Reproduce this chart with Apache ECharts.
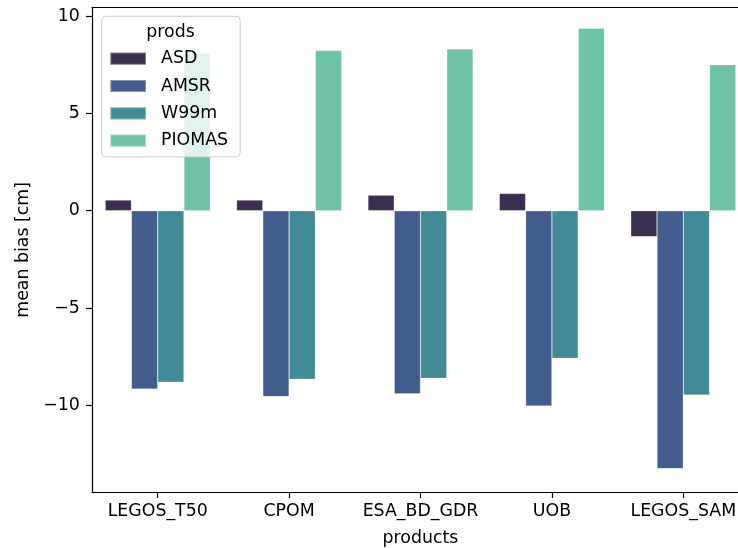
<!DOCTYPE html>
<html>
<head>
<meta charset="utf-8">
<script src="https://cdn.jsdelivr.net/npm/echarts@6/dist/echarts.min.js"></script>
<style>
  html, body { margin: 0; padding: 0; background: #fff; }
  #chart { width: 738px; height: 548px; }
</style>
</head>
<body>
<div id="chart"></div>
<script>
// Mean bias of each product, grouped by reference product
const categories = ['LEGOS_T50', 'CPOM', 'ESA_BD_GDR', 'UOB', 'LEGOS_SAM'];
const hueNames = ['ASD', 'AMSR', 'W99m', 'PIOMAS'];
const asd    = [0.55, 0.55, 0.80, 0.89, -1.33];
const amsr   = [-9.16, -9.55, -9.41, -10.03, -13.25];
const w99m   = [-8.81, -8.66, -8.61, -7.58, -9.47];
const piomas = [8.08, 8.24, 8.31, 9.38, 7.50];
const yTicks = [-10, -5, 0, 5, 10];

const seriesValues = [asd, amsr, w99m, piomas];
const colors = ['#3b2f51', '#435e8e', '#428b96', '#6fc2a7'];

const FONT = 'DejaVu Sans';
const FS = 17.36;
const spine = { color: '#000', width: 1.2 };

const chart = echarts.init(document.getElementById('chart'), null, { renderer: 'canvas' });

chart.setOption({
  animation: false,
  backgroundColor: '#ffffff',
  textStyle: { fontFamily: FONT },
  grid: {
    left: 92, top: 7.7, width: 657, height: 484.3,
    outerBoundsMode: 'none',
    containLabel: false,
    show: false
  },
  legend: {
    orient: 'vertical',
    left: 101.7, top: 16.3,
    padding: [33.4, 12, 7.3, 7.6],
    itemWidth: 35.7, itemHeight: 12.2, itemGap: 9.3,
    icon: 'rect',
    backgroundColor: 'rgba(255,255,255,0.8)',
    borderColor: '#cccccc', borderWidth: 1, borderRadius: 4,
    data: hueNames,
    textStyle: {
      fontFamily: FONT, fontSize: FS, color: '#000',
      lineHeight: 18, padding: [0, 0, 0, 10]
    }
  },
  graphic: {
    elements: [{
      type: 'text', z: 100,
      x: 170.5, y: 32.5,
      style: {
        text: 'prods', fontFamily: FONT, fontSize: FS, fill: '#000',
        align: 'center', verticalAlign: 'middle'
      }
    }]
  },
  xAxis: [{
    type: 'category',
    data: categories,
    name: 'products',
    nameLocation: 'middle',
    nameGap: 38,
    nameTextStyle: { fontFamily: FONT, fontSize: FS, color: '#000' },
    axisLine: { show: true, onZero: false, lineStyle: spine },
    axisTick: { show: true, alignWithLabel: true, length: 6, lineStyle: spine },
    axisLabel: { fontFamily: FONT, fontSize: FS, color: '#000', margin: 11, interval: 0 },
    splitLine: { show: false }
  }, {
    // top spine of the frame
    type: 'category',
    data: categories,
    position: 'top',
    axisLine: { show: true, onZero: false, lineStyle: spine },
    axisTick: { show: false },
    axisLabel: { show: false },
    splitLine: { show: false }
  }],
  yAxis: {
    type: 'value',
    min: -14.45, max: 10.43,
    name: 'mean bias [cm]',
    nameLocation: 'middle',
    nameGap: 55,
    nameTextStyle: { fontFamily: FONT, fontSize: FS, color: '#000' },
    axisLine: { show: true, onZero: false, lineStyle: spine },
    axisTick: { show: true, length: 6, customValues: yTicks, lineStyle: spine },
    axisLabel: {
      fontFamily: FONT, fontSize: FS, color: '#000', margin: 12.2,
      customValues: yTicks,
      formatter: v => String(v).replace('-', '\u2212')
    },
    splitLine: { show: false }
  },
  series: hueNames.map((name, i) => ({
    name: name,
    type: 'bar',
    xAxisIndex: 0,
    data: seriesValues[i],
    barGap: '0%',
    barCategoryGap: '20%',
    itemStyle: { color: colors[i], borderColor: 'rgba(255,255,255,0.35)', borderWidth: 0.6 }
  }))
});
</script>
</body>
</html>
